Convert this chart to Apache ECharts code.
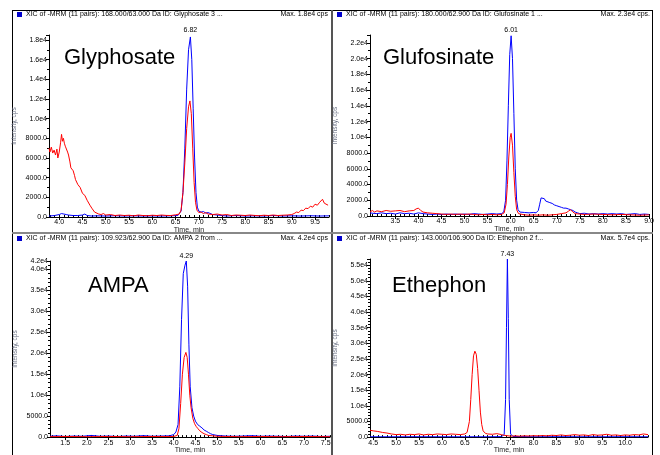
<!DOCTYPE html>
<html>
<head>
<meta charset="utf-8">
<script src="https://cdn.jsdelivr.net/npm/echarts@6/dist/echarts.min.js"></script>
<style>
  html, body { margin: 0; padding: 0; background: #fff; }
  #main { width: 660px; height: 455px; }
</style>
</head>
<body>
<div id="main"></div>
<script>
// ---- data: [time (min), intensity (cps)] ----
const glyBlue = [[3.78,100],[3.9,150],[4.0,250],[4.05,350],[4.1,300],[4.15,250],[4.2,200],[4.3,150],[4.4,150],[4.5,200],[4.55,300],[4.6,150],[4.7,100],[4.8,120],[5.0,100],[5.2,130],[5.4,100],[5.6,120],[5.8,100],[6.0,110],[6.2,100],[6.4,120],[6.55,150],[6.62,600],[6.66,2500],[6.70,7000],[6.74,13000],[6.78,17000],[6.82,18300],[6.85,16000],[6.88,11000],[6.91,6000],[6.94,2500],[6.97,1000],[7.0,600],[7.05,500],[7.1,550],[7.15,400],[7.2,450],[7.3,250],[7.4,200],[7.5,150],[7.6,100],[7.8,150],[8.0,100],[8.2,120],[8.4,100],[8.6,150],[8.8,100],[9.0,120],[9.2,100],[9.4,130],[9.6,100],[9.8,120]];
const glyRed = [[3.78,7000],[3.80,6600],[3.83,7100],[3.86,6500],[3.89,6800],[3.92,6300],[3.95,6900],[3.97,6000],[4.00,6600],[4.03,7600],[4.05,8400],[4.07,7700],[4.09,8000],[4.11,7500],[4.13,7200],[4.15,7100],[4.18,6600],[4.20,6300],[4.23,5600],[4.25,5000],[4.28,5200],[4.30,4700],[4.33,4200],[4.35,3800],[4.38,3600],[4.40,3300],[4.43,3400],[4.45,3000],[4.48,2900],[4.50,2400],[4.53,2600],[4.55,2200],[4.58,2000],[4.60,1700],[4.63,1500],[4.66,1200],[4.70,900],[4.73,700],[4.76,500],[4.80,400],[4.85,300],[4.90,250],[4.95,350],[5.0,200],[5.1,250],[5.2,150],[5.3,200],[5.4,150],[5.5,180],[5.6,120],[5.7,200],[5.8,150],[5.9,130],[6.0,180],[6.1,150],[6.2,200],[6.3,160],[6.4,150],[6.5,220],[6.58,300],[6.62,700],[6.66,2500],[6.70,5500],[6.74,9000],[6.78,11200],[6.81,11800],[6.84,10500],[6.87,7000],[6.90,3500],[6.93,1500],[6.96,700],[7.0,450],[7.05,500],[7.1,350],[7.15,450],[7.2,300],[7.3,250],[7.4,300],[7.5,200],[7.6,250],[7.7,150],[7.8,200],[7.9,180],[8.0,150],[8.1,200],[8.2,160],[8.3,130],[8.4,180],[8.5,150],[8.6,200],[8.7,150],[8.8,180],[8.9,200],[9.0,250],[9.05,350],[9.1,500],[9.15,450],[9.2,700],[9.25,650],[9.3,900],[9.35,850],[9.4,1100],[9.45,1000],[9.5,1300],[9.55,1200],[9.6,1500],[9.63,1300],[9.66,1800],[9.7,1400],[9.73,1600],[9.78,1200]];

const gluBlue = [[2.95,400],[3.0,350],[3.1,300],[3.2,400],[3.3,300],[3.4,350],[3.5,250],[3.6,400],[3.7,300],[3.8,350],[3.9,250],[4.0,400],[4.1,300],[4.2,250],[4.3,200],[4.4,250],[4.5,200],[4.6,250],[4.7,200],[4.8,250],[4.9,200],[5.0,250],[5.1,200],[5.2,300],[5.3,250],[5.4,200],[5.5,250],[5.6,300],[5.7,250],[5.8,300],[5.85,500],[5.89,2000],[5.92,7000],[5.95,14000],[5.98,20500],[6.01,22900],[6.04,20000],[6.07,13000],[6.10,6000],[6.13,2000],[6.16,800],[6.2,500],[6.3,450],[6.4,400],[6.5,450],[6.55,400],[6.6,700],[6.63,1500],[6.66,2300],[6.7,2100],[6.73,2200],[6.76,1900],[6.8,2000],[6.85,1700],[6.9,1600],[6.95,1400],[7.0,1300],[7.05,1200],[7.1,1100],[7.15,1000],[7.2,1000],[7.25,900],[7.3,800],[7.35,700],[7.4,500],[7.45,400],[7.5,300],[7.6,350],[7.7,250],[7.8,300],[7.9,250],[8.0,300],[8.1,250],[8.2,300],[8.3,250],[8.4,300],[8.5,200],[8.6,250],[8.7,300],[8.8,200],[8.9,250],[9.0,200]];
const gluRed = [[2.95,500],[3.0,700],[3.05,500],[3.1,650],[3.2,550],[3.3,700],[3.4,600],[3.5,650],[3.6,700],[3.7,550],[3.8,650],[3.9,700],[3.95,900],[4.0,1000],[4.05,700],[4.1,500],[4.2,400],[4.3,350],[4.4,300],[4.5,250],[4.6,200],[4.7,250],[4.8,200],[4.9,250],[5.0,200],[5.1,250],[5.2,200],[5.3,150],[5.4,200],[5.5,150],[5.6,200],[5.7,150],[5.8,200],[5.86,400],[5.9,1500],[5.93,4000],[5.96,7500],[5.99,10000],[6.01,10500],[6.04,9000],[6.07,5500],[6.10,2500],[6.13,800],[6.17,300],[6.2,200],[6.3,150],[6.4,100],[6.5,150],[6.6,100],[6.7,150],[6.8,100],[6.9,150],[7.0,200],[7.1,300],[7.2,400],[7.25,600],[7.3,800],[7.35,500],[7.4,300],[7.5,250],[7.6,200],[7.8,250],[8.0,200],[8.2,150],[8.4,200],[8.6,150],[8.8,100],[9.0,150]];

const ampaBlue = [[1.15,200],[1.3,300],[1.5,150],[1.7,250],[1.9,200],[2.1,400],[2.3,200],[2.5,250],[2.7,150],[2.9,250],[3.1,200],[3.3,350],[3.5,200],[3.7,250],[3.9,300],[4.0,600],[4.05,1200],[4.1,3000],[4.14,12000],[4.18,28000],[4.22,39000],[4.26,41000],[4.29,42000],[4.32,36000],[4.35,22000],[4.38,12000],[4.42,7000],[4.46,5000],[4.5,3800],[4.55,3000],[4.6,2600],[4.65,2200],[4.7,1700],[4.75,1400],[4.8,1100],[4.85,800],[4.9,600],[5.0,400],[5.2,250],[5.4,200],[5.6,250],[5.8,350],[6.0,200],[6.2,250],[6.4,200],[6.6,150],[6.8,250],[7.0,200],[7.2,250],[7.4,150],[7.6,200]];
const ampaRed = [[1.15,100],[1.5,150],[2.0,100],[2.5,150],[3.0,100],[3.5,150],[4.0,150],[4.08,400],[4.12,2000],[4.16,8000],[4.2,15000],[4.24,19000],[4.28,20200],[4.31,19000],[4.34,15000],[4.37,10000],[4.4,7000],[4.44,4500],[4.48,3200],[4.52,2500],[4.56,2000],[4.6,1500],[4.65,1100],[4.7,800],[4.75,600],[4.8,400],[4.9,300],[5.0,200],[5.2,150],[5.5,100],[6.0,150],[6.5,100],[7.0,150],[7.6,100]];

const ethBlue = [[4.43,100],[5.0,100],[5.5,120],[6.0,100],[6.5,100],[7.0,100],[7.3,150],[7.36,800],[7.39,12000],[7.41,35000],[7.43,57000],[7.45,38000],[7.47,12000],[7.5,1000],[7.55,200],[8.0,100],[8.5,120],[9.0,100],[9.5,100],[10.0,120],[10.5,100]];
const ethRed = [[4.43,2200],[4.5,2000],[4.6,1800],[4.7,1500],[4.8,1300],[4.9,1000],[5.0,800],[5.1,900],[5.2,700],[5.3,900],[5.4,800],[5.5,1000],[5.6,700],[5.7,900],[5.8,800],[5.9,1000],[6.0,900],[6.1,800],[6.2,1000],[6.3,900],[6.4,800],[6.5,1000],[6.55,1500],[6.6,5000],[6.63,12000],[6.66,20000],[6.69,26000],[6.72,27500],[6.75,26500],[6.78,22000],[6.81,15000],[6.84,8000],[6.87,4000],[6.9,2000],[6.95,1200],[7.0,1000],[7.1,900],[7.2,1100],[7.3,800],[7.35,600],[7.4,500],[7.5,300],[7.6,400],[7.7,300],[7.8,400],[7.9,350],[8.0,450],[8.1,400],[8.2,500],[8.3,400],[8.4,600],[8.5,500],[8.6,700],[8.7,500],[8.8,600],[8.9,800],[9.0,600],[9.1,700],[9.2,500],[9.3,800],[9.4,600],[9.5,700],[9.6,900],[9.7,600],[9.8,700],[9.9,500],[10.0,700],[10.1,600],[10.2,800],[10.3,700],[10.4,1000],[10.5,800]];

// tick labels on the time axes
const glyTicks = [4.0,4.5,5.0,5.5,6.0,6.5,7.0,7.5,8.0,8.5,9.0,9.5];
const gluTicks = [3.5,4.0,4.5,5.0,5.5,6.0,6.5,7.0,7.5,8.0,8.5,9.0];
const ampaTicks = [1.5,2.0,2.5,3.0,3.5,4.0,4.5,5.0,5.5,6.0,6.5,7.0,7.5];
const ethTicks = [4.5,5.0,5.5,6.0,6.5,7.0,7.5,8.0,8.5,9.0,9.5,10.0];

const names = ['Glyphosate', 'Glufosinate', 'AMPA', 'Ethephon'];
const headers = [
  'XIC of -MRM (11 pairs): 168.000/63.000 Da ID: Glyphosate 3 ...',
  'XIC of -MRM (11 pairs): 180.000/62.900 Da ID: Glufosinate 1 ...',
  'XIC of -MRM (11 pairs): 109.923/62.900 Da ID: AMPA 2 from ...',
  'XIC of -MRM (11 pairs): 143.000/106.900 Da ID: Ethephon 2 f...'
];
const maxTexts = ['Max. 1.8e4 cps', 'Max. 2.3e4 cps.', 'Max. 4.2e4 cps', 'Max. 5.7e4 cps.'];
const peakLabels = ['6.82', '6.01', '4.29', '7.43'];

const FONT = 'Liberation Sans, Arial, sans-serif';

// panel layout
const panels = [
  {grid: {left: 49, top: 35, width: 280, height: 182}, x: [3.78, 9.8], yMax: 18500, yInt: 2000, minor: 2, ticks: glyTicks, blue: glyBlue, red: glyRed, showMax: false, nameGap: 8},
  {grid: {left: 370, top: 35, width: 279, height: 181}, x: [2.95, 9.0], yMax: 23000, yInt: 2000, minor: 2, ticks: gluTicks, blue: gluBlue, red: gluRed, showMax: false, nameGap: 8},
  {grid: {left: 50, top: 261, width: 280, height: 179}, x: [1.15, 7.6], yMax: 42000, yInt: 5000, minor: 5, ticks: ampaTicks, blue: ampaBlue, red: ampaRed, showMax: true, nameGap: 9},
  {grid: {left: 370, top: 259, width: 278, height: 181}, x: [4.43, 10.5], yMax: 57000, yInt: 5000, minor: 5, ticks: ethTicks, blue: ethBlue, red: ethRed, showMax: false, nameGap: 9}
];

function yFmt(v) {
  return v < 10000 ? v.toFixed(1) : (v / 10000).toFixed(1) + 'e4';
}

function minorValues(range) {
  const out = [];
  for (let i = Math.ceil(range[0] * 10); i <= Math.floor(range[1] * 10); i++) out.push(i / 10);
  return out;
}

const grid = [], xAxis = [], yAxis = [], series = [];

panels.forEach((p, i) => {
  grid.push(p.grid);
  // main time axis
  xAxis.push({
    type: 'value', gridIndex: i, min: p.x[0], max: p.x[1],
    name: 'Time, min', nameLocation: 'middle', nameGap: p.nameGap,
    nameTextStyle: {fontSize: 7, fontFamily: FONT, color: '#222'},
    axisLine: {onZero: false, lineStyle: {color: '#000', width: 1}},
    axisTick: {length: 3, customValues: p.ticks, lineStyle: {color: '#000'}},
    axisLabel: {customValues: p.ticks, fontSize: 7, fontFamily: FONT, color: '#000', margin: 2,
      formatter: v => v.toFixed(1)},
    splitLine: {show: false}
  });
  // minor time ticks
  xAxis.push({
    type: 'value', gridIndex: i, min: p.x[0], max: p.x[1],
    axisLine: {show: false},
    axisTick: {length: 2, customValues: minorValues(p.x), lineStyle: {color: '#000'}},
    axisLabel: {show: false},
    splitLine: {show: false}
  });
  yAxis.push({
    type: 'value', gridIndex: i, min: 0, max: p.yMax, interval: p.yInt,
    name: 'Intensity, cps', nameLocation: 'middle', nameGap: 31,
    nameTextStyle: {fontSize: 6.5, fontFamily: FONT, color: '#6b7285'},
    axisLine: {show: true, lineStyle: {color: '#000', width: 1}},
    axisTick: {show: true, length: 3, lineStyle: {color: '#000'}},
    minorTick: {show: true, splitNumber: p.minor, length: 2, lineStyle: {color: '#000'}},
    axisLabel: {fontSize: 7, fontFamily: FONT, color: '#000', margin: 2, showMaxLabel: p.showMax,
      formatter: yFmt},
    splitLine: {show: false}
  });
  series.push({
    type: 'line', xAxisIndex: i * 2, yAxisIndex: i, data: p.blue,
    showSymbol: false, symbol: 'none', lineStyle: {color: '#0000ff', width: 1}, z: 2,
    markPoint: {
      symbol: 'circle', symbolSize: 0, silent: true,
      data: [{coord: [parseFloat(peakLabels[i]), p.yMax]}],
      label: {show: true, position: 'top', distance: 1, formatter: peakLabels[i],
        fontSize: 7, fontFamily: FONT, color: '#000'}
    }
  });
  series.push({
    type: 'line', xAxisIndex: i * 2, yAxisIndex: i, data: p.red,
    showSymbol: false, symbol: 'none', lineStyle: {color: '#ff0000', width: 1}, z: 3
  });
});

const title = [];
const headerPos = [
  {left: 26, top: 11, right: 332, sq: [17, 12]},
  {left: 346, top: 11, right: 10, sq: [337, 12]},
  {left: 26, top: 235, right: 332, sq: [17, 236]},
  {left: 346, top: 235, right: 10, sq: [337, 236]}
];
const namePos = [[64, 47], [383, 47], [88, 275], [392, 275]];

headerPos.forEach((h, i) => {
  title.push({text: headers[i], left: h.left, top: h.top, padding: 0,
    textStyle: {fontSize: 7, fontWeight: 'normal', fontFamily: FONT, color: '#000'}});
  title.push({text: maxTexts[i], right: h.right, top: h.top, padding: 0,
    textStyle: {fontSize: 7, fontWeight: 'normal', fontFamily: FONT, color: '#000'}});
  title.push({text: names[i], left: namePos[i][0], top: namePos[i][1], padding: 0,
    textStyle: {fontSize: 22, fontWeight: 'normal', fontFamily: FONT, color: '#000'}});
});

// panel frames and header squares
const graphic = [
  {type: 'line', shape: {x1: 12.5, y1: 10.5, x2: 652.5, y2: 10.5}, style: {stroke: '#000', lineWidth: 1}},
  {type: 'line', shape: {x1: 12.5, y1: 10, x2: 12.5, y2: 455}, style: {stroke: '#000', lineWidth: 1}},
  {type: 'line', shape: {x1: 652.5, y1: 10, x2: 652.5, y2: 455}, style: {stroke: '#000', lineWidth: 1}},
  {type: 'line', shape: {x1: 332, y1: 10, x2: 332, y2: 455}, style: {stroke: '#555', lineWidth: 2}},
  {type: 'line', shape: {x1: 12, y1: 233, x2: 653, y2: 233}, style: {stroke: '#888', lineWidth: 2}}
];
headerPos.forEach(h => {
  graphic.push({type: 'rect', shape: {x: h.sq[0], y: h.sq[1], width: 5, height: 5}, style: {fill: '#0000cc'}});
});

const chart = echarts.init(document.getElementById('main'));
chart.setOption({
  animation: false,
  backgroundColor: '#fff',
  title: title,
  grid: grid,
  xAxis: xAxis,
  yAxis: yAxis,
  series: series,
  graphic: graphic
});
</script>
</body>
</html>
